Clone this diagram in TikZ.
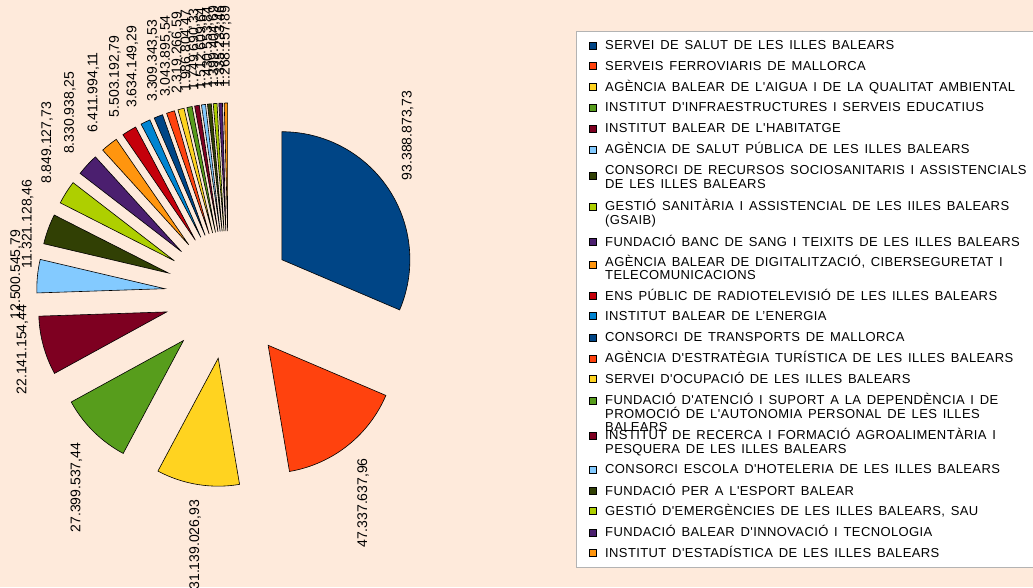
\documentclass[tikz,border=0pt]{standalone}
\usepackage{fontspec}
\newfontfamily\chartfont{Liberation Sans}[LetterSpace=3]
\newfontfamily\valfont{Liberation Sans}
\newcommand\legfont{\chartfont\fontsize{13}{15}\selectfont\spaceskip=5.8pt\relax}
\usetikzlibrary{calc}

\definecolor{bgPeach}{RGB}{254,234,219}
\definecolor{legEdge}{RGB}{179,179,179}
\definecolor{pBlue}{HTML}{004586}
\definecolor{pRed}{HTML}{FF420E}
\definecolor{pYellow}{HTML}{FFD320}
\definecolor{pGreen}{HTML}{579D1C}
\definecolor{pWine}{HTML}{7E0021}
\definecolor{pSky}{HTML}{83CAFF}
\definecolor{pOlive}{HTML}{314004}
\definecolor{pLime}{HTML}{AECF00}
\definecolor{pViolet}{HTML}{4B1F6F}
\definecolor{pOrange}{HTML}{FF950E}
\definecolor{pCrimson}{HTML}{C5000B}
\definecolor{pAzure}{HTML}{0084D1}

\begin{document}
\begin{tikzpicture}
[x=1pt,y=1pt,
 slice/.style={draw=black,line width=.6pt},
 val/.style={rotate=90,inner sep=.5pt,font=\valfont\fontsize{14}{16}\selectfont},
 legmark/.style={rectangle,draw=black,line width=.5pt,minimum size=7pt,inner sep=0pt},
 legtext/.style={anchor=base west,inner sep=0pt,font=\legfont}]

\useasboundingbox (0,0) rectangle (1033,-587);
\fill[bgPeach] (0,0) rectangle (1033,-587);
\coordinate (C) at (228.5,-295);

%pie slices, exploded
\foreach \s/\e/\col/\val/\anc [count=\i] in {
 90/-23.08/pBlue/{93.388.873,73}/north west,
 -23.08/-80.40/pRed/{47.337.637,96}/north east,
 -80.40/-118.10/pYellow/{31.139.026,93}/east,
 -118.10/-151.28/pGreen/{27.399.537,44}/south east,
 -151.28/-178.09/pWine/{22.141.154,44}/south,
 -178.09/-193.23/pSky/{12.500.545,79}/south,
 -193.23/-206.93/pOlive/{11.321.128,46}/south,
 -206.93/-217.65/pLime/{8.849.127,73}/south west,
 -217.65/-227.74/pViolet/{8.330.938,25}/south west,
 -227.74/-235.50/pOrange/{6.411.994,11}/south west,
 -235.50/-242.16/pCrimson/{5.503.192,79}/south west,
 -242.16/-246.56/pAzure/{3.634.149,29}/south west,
 -246.56/-250.57/pBlue/{3.309.343,53}/west,
 -250.57/-254.26/pRed/{3.043.895,54}/west,
 -254.26/-257.07/pYellow/{2.319.266,59}/west,
 -257.07/-259.47/pGreen/{1.986.804,47}/west,
 -259.47/-261.59/pWine/{1.749.690,33}/west,
 -261.59/-263.42/pSky/{1.512.609,64}/west,
 -263.42/-265.15/pOlive/{1.430.553,84}/west,
 -265.15/-266.85/pLime/{1.399.404,69}/west,
 -266.85/-268.46/pViolet/{1.335.233,46}/west,
 -268.46/-270/pOrange/{1.268.157,89}/west}
{
\pgfmathsetmacro\m{(\s+\e)/2}
\draw[slice,fill=\col] (C) ++(\m:64) -- ++(\s:128) arc[start angle=\s,end angle=\e,radius=128] -- cycle;
\node[val,anchor=\anc] (v\i) at ($(C)+(\m:207)$) {\val};
}

%legend
\fill[white] (576,-31) rectangle (1034,-567);
\draw[legEdge,line width=.8pt] (1034,-31) -- (576,-31) -- (576,-567) -- (1034,-567);

\foreach \y/\my/\col/\txt [count=\i] in {
 49.3/45.3/pBlue/{SERVEI DE SALUT DE LES ILLES BALEARS},
 70/66/pRed/{SERVEIS FERROVIARIS DE MALLORCA},
 91/87/pYellow/{AGÈNCIA BALEAR DE L'AIGUA I DE LA QUALITAT AMBIENTAL},
 111.7/107.7/pGreen/{INSTITUT D'INFRAESTRUCTURES I SERVEIS EDUCATIUS},
 132.7/128.7/pWine/{INSTITUT BALEAR DE L'HABITATGE},
 153.3/149.3/pSky/{AGÈNCIA DE SALUT PÚBLICA DE LES ILLES BALEARS},
 174.3/175.7/pOlive/{CONSORCI DE RECURSOS SOCIOSANITARIS I ASSISTENCIALS},
 210/206.5/pLime/{GESTIÓ SANITÀRIA I ASSISTENCIAL DE LES IILES BALEARS},
 246/242/pViolet/{FUNDACIÓ BANC DE SANG I TEIXITS DE LES ILLES BALEARS},
 266/264.5/pOrange/{AGÈNCIA BALEAR DE DIGITALITZACIÓ, CIBERSEGURETAT I},
 300/296/pCrimson/{ENS PÚBLIC DE RADIOTELEVISIÓ DE LES ILLES BALEARS},
 320/316/pAzure/{INSTITUT BALEAR DE L’ENERGIA},
 341.5/337.5/pBlue/{CONSORCI DE TRANSPORTS DE MALLORCA},
 362.5/358.5/pRed/{AGÈNCIA D'ESTRATÈGIA TURÍSTICA DE LES ILLES BALEARS},
 383/379/pYellow/{SERVEI D'OCUPACIÓ DE LES ILLES BALEARS},
 404.3/400.3/pGreen/{FUNDACIÓ D'ATENCIÓ I SUPORT A LA DEPENDÈNCIA I DE},
 439.3/435.5/pWine/{INSTITUT DE RECERCA I FORMACIÓ AGROALIMENTÀRIA I},
 473.3/469.3/pSky/{CONSORCI ESCOLA D'HOTELERIA DE LES ILLES BALEARS},
 495/491/pOlive/{FUNDACIÓ PER A L'ESPORT BALEAR},
 515/511/pLime/{GESTIÓ D'EMERGÈNCIES DE LES ILLES BALEARS, SAU},
 536.5/532.5/pViolet/{FUNDACIÓ BALEAR D'INNOVACIÓ I TECNOLOGIA},
 557/553/pOrange/{INSTITUT D'ESTADÍSTICA DE LES ILLES BALEARS}}
{
\node[legmark,fill=\col] (m\i) at (592.5,-\my) {};
\node[legtext] (t\i) at (605,-\y) {\txt};
}

%second and third lines of the long entries
\foreach \y/\txt [count=\i] in {
 188.3/{DE LES ILLES BALEARS},
 224.3/{(GSAIB)},
 279.3/{TELECOMUNICACIONS},
 418.3/{PROMOCIÓ DE L'AUTONOMIA PERSONAL DE LES ILLES},
 431.7/{BALEARS},
 453.3/{PESQUERA DE LES ILLES BALEARS}}
{
\node[legtext] (u\i) at (605,-\y) {\txt};
}

\end{tikzpicture}
\end{document}
